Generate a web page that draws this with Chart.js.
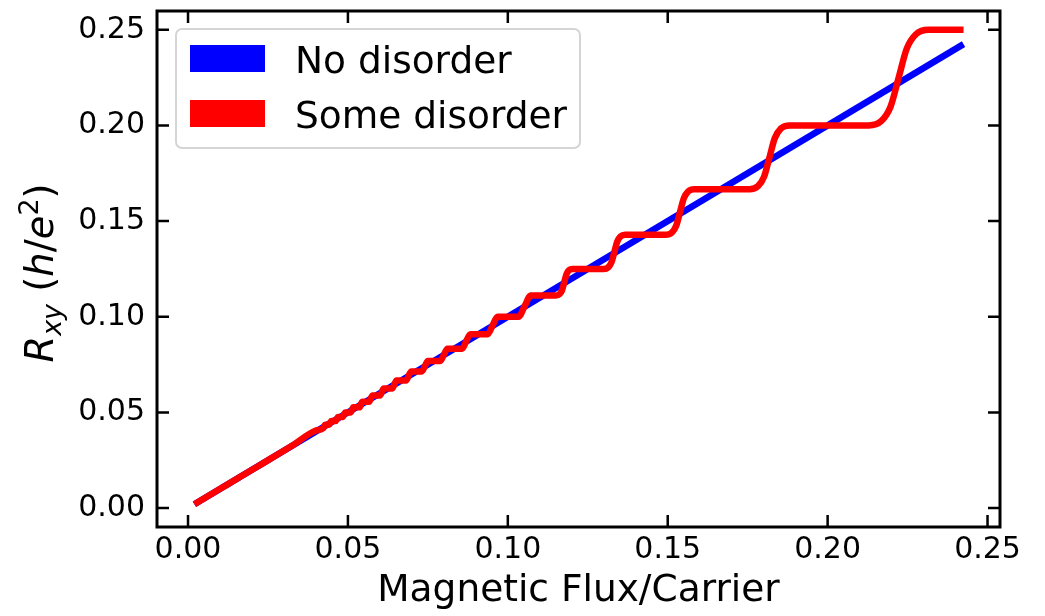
<!DOCTYPE html>
<html>
<head>
<meta charset="utf-8">
<script src="https://cdn.jsdelivr.net/npm/chart.js@4.4.0/dist/chart.umd.min.js"></script>
<style>
  html, body { margin: 0; padding: 0; background: #fff; }
  #wrap { width: 1045px; height: 616px; }
</style>
</head>
<body>
<div id="wrap"><canvas id="hallChart" width="1045" height="616"></canvas></div>
<script>
// Values
const fluxClean = [0.002, 0.2425];
const rxyClean = [0.002, 0.2425];

// Red curve: straight at low field, then plateaus near 1/n with smooth steps between
const fluxDisorder = [
  0.002, 0.012, 0.022, 0.032, 0.040, 0.04225, 0.04255, 0.04285,
  0.0441, 0.04444, 0.04478, 0.04614, 0.04651, 0.04688, 0.04838, 0.04878, 0.04918,
  0.0508, 0.05128, 0.0517, 0.0536, 0.05405, 0.0545, 0.0566, 0.05714, 0.0577,
  0.0600, 0.06061, 0.0612, 0.0638, 0.06452, 0.0652, 0.0682, 0.06897, 0.0698,
  0.0731, 0.07407, 0.0750, 0.0789, 0.0800, 0.0811, 0.0857, 0.08696, 0.0883,
  0.0937, 0.09524, 0.0968, 0.1034, 0.10526, 0.1072,
  0.11505, 0.11615, 0.11695, 0.11765, 0.11835, 0.11915, 0.12025,
  0.12999, 0.13140, 0.13243, 0.13333, 0.13423, 0.13526, 0.13667,
  0.14939, 0.15128, 0.15265, 0.15385, 0.15505, 0.15642, 0.15831,
  0.17558, 0.17822, 0.18014, 0.18182, 0.18350, 0.18542, 0.18806,
  0.21286, 0.21682, 0.21970, 0.22222, 0.22474, 0.22762, 0.23158,
  0.2425
];
const rxyDisorder = [
  0.002, 0.012, 0.022, 0.032, 0.0405, 0.04167, 0.04257, 0.04348,
  0.04348, 0.04447, 0.04545, 0.04545, 0.04654, 0.04762, 0.04762, 0.04881, 0.05,
  0.05, 0.05132, 0.05263, 0.05263, 0.05409, 0.05556, 0.05556, 0.05719, 0.05882,
  0.05882, 0.06066, 0.0625, 0.0625, 0.06458, 0.06667, 0.06667, 0.06905, 0.07143,
  0.07143, 0.07418, 0.07692, 0.07692, 0.08013, 0.08333, 0.08333, 0.08712, 0.09091,
  0.09091, 0.09545, 0.1, 0.1, 0.10556, 0.11111,
  0.11111, 0.11176, 0.11386, 0.11806, 0.12226, 0.12435, 0.125,
  0.125, 0.12584, 0.12854, 0.13393, 0.13932, 0.14202, 0.14286,
  0.14286, 0.14398, 0.14757, 0.15476, 0.16196, 0.16555, 0.16667,
  0.16667, 0.16824, 0.17327, 0.18333, 0.19340, 0.19843, 0.2,
  0.2, 0.20235, 0.2099, 0.225, 0.2401, 0.24765, 0.25,
  0.25
];

const seriesLabels = ['No disorder', 'Some disorder'];
const seriesColors = ['#0000ff', '#ff0000'];
const xTitle = 'Magnetic Flux/Carrier';
const xRange = [-0.0097, 0.2539];
const yRange = [-0.0099, 0.2598];
const tickStep = 0.05;

const FONT = '"DejaVu Sans", sans-serif';

const toPoints = (xs, ys) => xs.map((x, i) => ({ x: x, y: ys[i] }));

// Frame and inward ticks on all four sides
const framePlugin = {
  id: 'frame',
  afterDraw(chart) {
    const ctx = chart.ctx;
    const a = chart.chartArea;
    const len = 12;
    ctx.save();
    ctx.strokeStyle = '#000';
    ctx.lineWidth = 2.5;
    chart.scales.x.ticks.forEach(t => {
      const px = chart.scales.x.getPixelForValue(t.value);
      ctx.beginPath();
      ctx.moveTo(px, a.bottom); ctx.lineTo(px, a.bottom - len);
      ctx.moveTo(px, a.top); ctx.lineTo(px, a.top + len);
      ctx.stroke();
    });
    chart.scales.y.ticks.forEach(t => {
      const py = chart.scales.y.getPixelForValue(t.value);
      ctx.beginPath();
      ctx.moveTo(a.left, py); ctx.lineTo(a.left + len, py);
      ctx.moveTo(a.right, py); ctx.lineTo(a.right - len, py);
      ctx.stroke();
    });
    ctx.lineWidth = 3;
    ctx.strokeRect(a.left, a.top, a.right - a.left, a.bottom - a.top);
    ctx.restore();
  }
};

// Legend box in the upper left of the plot
const legendPlugin = {
  id: 'boxLegend',
  afterDraw(chart) {
    const ctx = chart.ctx;
    ctx.save();
    ctx.beginPath();
    ctx.roundRect(176, 29, 404, 119, 6);
    ctx.fillStyle = 'rgba(255,255,255,0.8)';
    ctx.fill();
    ctx.strokeStyle = '#d5d5d5';
    ctx.lineWidth = 2;
    ctx.stroke();
    ctx.font = '37.5px ' + FONT;
    ctx.textBaseline = 'alphabetic';
    chart.data.datasets.forEach((ds, i) => {
      const top = 45 + i * 55;
      ctx.fillStyle = ds.borderColor;
      ctx.fillRect(190, top, 75, 27);
      ctx.fillStyle = '#000';
      ctx.fillText(ds.label, 295, top + 28);
    });
    ctx.restore();
  }
};

// Rotated y title with math-style sub/superscripts
const yTitlePlugin = {
  id: 'yTitle',
  afterDraw(chart) {
    const ctx = chart.ctx;
    const big = 38.5, small = 27;
    const parts = [
      { t: 'R', it: true, s: big, dy: 0 },
      { t: 'xy', it: true, s: small, dy: 8 },
      { t: ' ', it: false, s: big, dy: 0 },
      { t: '(', it: false, s: big, dy: 0 },
      { t: 'h', it: true, s: big, dy: 0 },
      { t: '/', it: false, s: big, dy: 0 },
      { t: 'e', it: true, s: big, dy: 0 },
      { t: '2', it: false, s: small, dy: -15 },
      { t: ')', it: false, s: big, dy: 0 }
    ];
    const fontOf = p => (p.it ? 'oblique ' : '') + p.s + 'px ' + FONT;
    ctx.save();
    let total = 0;
    parts.forEach(p => { ctx.font = fontOf(p); p.w = ctx.measureText(p.t).width; total += p.w; });
    const a = chart.chartArea;
    ctx.translate(53, (a.top + a.bottom) / 2 + 4);
    ctx.rotate(-Math.PI / 2);
    ctx.fillStyle = '#000';
    ctx.textBaseline = 'alphabetic';
    let x = -total / 2;
    parts.forEach(p => {
      ctx.font = fontOf(p);
      ctx.fillText(p.t, x, p.dy);
      x += p.w;
    });
    ctx.restore();
  }
};

const tickFont = { family: FONT, size: 30 };

new Chart(document.getElementById('hallChart'), {
  type: 'line',
  data: {
    datasets: [
      {
        label: seriesLabels[0],
        data: toPoints(fluxClean, rxyClean),
        borderColor: seriesColors[0],
        backgroundColor: seriesColors[0],
        borderWidth: 6.5,
        pointRadius: 0,
        borderCapStyle: 'butt',
        fill: false,
        order: 1
      },
      {
        label: seriesLabels[1],
        data: toPoints(fluxDisorder, rxyDisorder),
        borderColor: seriesColors[1],
        backgroundColor: seriesColors[1],
        borderWidth: 6.5,
        pointRadius: 0,
        cubicInterpolationMode: 'monotone',
        borderCapStyle: 'butt',
        borderJoinStyle: 'round',
        fill: false,
        order: 0
      }
    ]
  },
  options: {
    responsive: false,
    animation: false,
    devicePixelRatio: 1,
    layout: { padding: { top: 11, right: 45, bottom: 0, left: 0 } },
    plugins: {
      legend: { display: false },
      tooltip: { enabled: false }
    },
    scales: {
      x: {
        type: 'linear',
        min: xRange[0],
        max: xRange[1],
        grid: { display: false, drawTicks: false },
        border: { display: false },
        ticks: {
          stepSize: tickStep,
          includeBounds: false,
          maxRotation: 0,
          autoSkip: false,
          padding: 5,
          color: '#000',
          font: tickFont,
          callback: v => v.toFixed(2)
        },
        title: {
          display: true,
          text: xTitle,
          color: '#000',
          font: { family: FONT, size: 37.5 },
          padding: { top: 0, bottom: 2 }
        },
        afterFit: s => { s.height = 89; s.paddingLeft = 0; s.paddingRight = 0; }
      },
      y: {
        type: 'linear',
        min: yRange[0],
        max: yRange[1],
        grid: { display: false, drawTicks: false },
        border: { display: false },
        ticks: {
          stepSize: tickStep,
          includeBounds: false,
          autoSkip: false,
          padding: 12,
          color: '#000',
          font: tickFont,
          callback: v => v.toFixed(2)
        },
        afterFit: s => { s.width = 157; s.paddingTop = 0; s.paddingBottom = 0; }
      }
    }
  },
  plugins: [framePlugin, legendPlugin, yTitlePlugin]
});
</script>
</body>
</html>
